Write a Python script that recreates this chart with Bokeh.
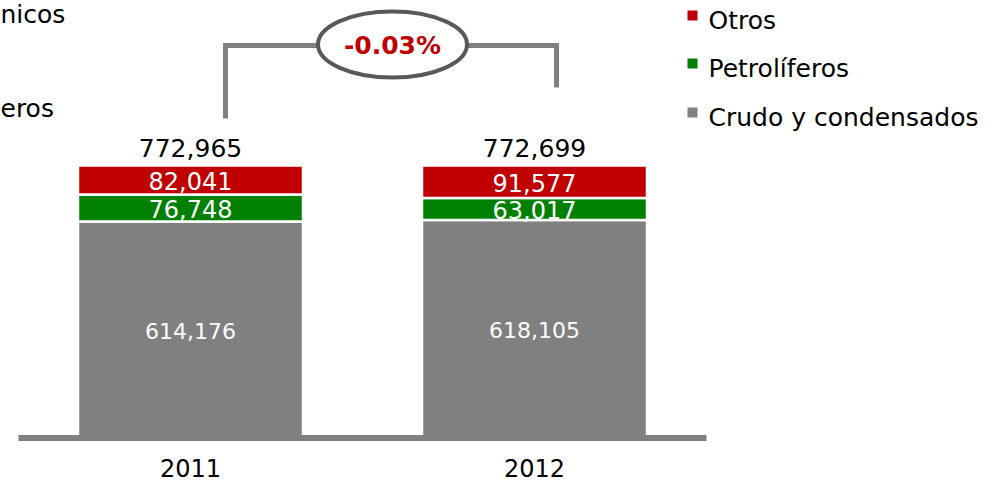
from bokeh.plotting import figure
from bokeh.models import Range1d, ColumnDataSource, FixedTicker
from bokeh.core.properties import value
from bokeh.embed import file_html
from bokeh.resources import INLINE

# ---------------- data ----------------
years = ["2011", "2012"]
crudo = [614176, 618105]
petroliferos = [76748, 63017]
otros = [82041, 91577]
series = ["Crudo y condensados", "Petrolíferos", "Otros"]
colors = ["#808080", "#008000", "#C00000"]
left_legend = ["nicos", "eros"]  # visible ends of a neighbouring chart's legend, cut by the slide edge

totals = [a + b + c for a, b, c in zip(crudo, petroliferos, otros)]
pct = (totals[1] - totals[0]) / totals[0] * 100

# ---------------- layout helpers (picture pixels -> data) ----------------
W, H = 990, 486
FONT = "DejaVu Sans"
cx0, unit = 190.0, 344.0          # x of first category centre, px per category
base_py, total_px = 437.5, 272.5  # y of value 0, px height of first total
k = total_px / totals[0]


def dx(px):
    return (px - cx0) / unit


def dy(py):
    return (base_py - py) / k


frame_bottom = 442
p = figure(width=W, height=H,
           x_range=Range1d(dx(0), dx(W)),
           y_range=Range1d(dy(frame_bottom), dy(0)),
           output_backend="svg", toolbar_location=None,
           y_axis_location=None, x_axis_location="below",
           min_border_left=0, min_border_right=0, min_border_top=0,
           min_border_bottom=H - frame_bottom,
           outline_line_color=None, background_fill_color="white",
           border_fill_color="white")
p.grid.visible = False

xs = list(range(len(years)))
src = ColumnDataSource(dict(x=xs, crudo=crudo, petro=petroliferos, otros=otros))
p.vbar_stack(["crudo", "petro", "otros"], x="x", width=225 / unit, source=src,
             fill_color=colors, line_color="white", line_width=2.5)

# baseline
p.segment(x0=-0.5, y0=0, x1=len(years) - 0.5, y1=0, line_width=6, line_color="#808080")

# segment labels
seg_x, seg_y, seg_t, seg_s = [], [], [], []
for i in xs:
    bottom = 0
    for vals, size in ((crudo, "22px"), (petroliferos, "24px"), (otros, "24px")):
        v = vals[i]
        seg_x.append(i)
        seg_y.append(bottom + v / 2)
        seg_t.append(f"{v:,}")
        seg_s.append(size)
        bottom += v
seg_src = ColumnDataSource(dict(x=seg_x, y=seg_y, t=seg_t, s=seg_s))
p.text(x="x", y="y", text="t", source=seg_src, text_align="center", text_baseline="middle",
       text_color="white", text_font=value(FONT), text_font_size="s", y_offset=1)

# totals
p.text(x=xs, y=totals, text=[f"{t:,}" for t in totals], text_align="center",
       text_baseline="alphabetic", text_color="black", text_font=value(FONT),
       text_font_size="25px", y_offset=-18)

# connector with change bubble
p.line(x=[dx(225), dx(225), dx(556), dx(556)],
       y=[dy(118), dy(45), dy(45), dy(87)],
       line_width=5, line_color="#808080", line_join="miter")
p.ellipse(x=dx(392), y=dy(44), width=149, height=66, width_units="screen",
          height_units="screen", fill_color="white", line_color="#595959", line_width=4)
p.text(x=[dx(392)], y=[dy(44)], text=[f"{pct:.2f}%"], text_align="center",
       text_baseline="middle", text_color="#C00000", text_font=value(FONT),
       text_font_size="25px", text_font_style="bold", y_offset=1)

# legend (right)
leg_names = list(reversed(series))
leg_colors = list(reversed(colors))
baselines = [20, 68, 117]
p.scatter(x=[dx(692)] * 3, y=[dy(b - 5) for b in baselines], marker="square", size=10,
          fill_color=leg_colors, line_color=None)
p.text(x=[dx(708)] * 3, y=[dy(b) for b in baselines], text=leg_names, text_align="left",
       text_baseline="alphabetic", text_color="black", text_font=value(FONT),
       text_font_size="25px")

# cut-off legend (left)
p.text(x=[dx(0), dx(0)], y=[dy(14), dy(108)], text=left_legend, text_align="left",
       text_baseline="alphabetic", text_color="black", text_font=value(FONT),
       text_font_size="25px")

# x axis
ax = p.xaxis[0]
ax.ticker = FixedTicker(ticks=xs)
ax.major_label_overrides = {i: y for i, y in enumerate(years)}
ax.axis_line_color = None
ax.major_tick_line_color = None
ax.minor_tick_line_color = None
ax.major_label_text_font = FONT
ax.major_label_text_font_size = "24px"
ax.major_label_text_color = "black"
ax.major_label_standoff = 10

open("out.html", "w").write(file_html(p, INLINE))
